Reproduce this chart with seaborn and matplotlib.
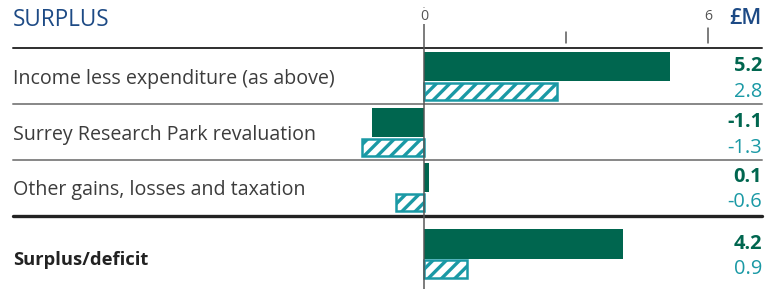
import numpy as np
import pandas as pd
import matplotlib
matplotlib.use("Agg")
import matplotlib.pyplot as plt
import seaborn as sns

# ---- data ----
categories = ["Income less expenditure (as above)",
              "Surrey Research Park revaluation",
              "Other gains, losses and taxation",
              "Surplus/deficit"]
current = [5.2, -1.1, 0.1, 4.2]
previous = [2.8, -1.3, -0.6, 0.9]
tick_values = [0, 6]
title = "SURPLUS"
unit = "£M"

# ---- style ----
sns.set_theme(style="white")
plt.rcParams["font.family"] = ["Open Sans", "DejaVu Sans"]
DARK = "#00664f"
TEAL = "#1a99a5"
NAVY = "#1d4a85"
TXT = "#3c3c3c"
plt.rcParams["hatch.color"] = TEAL
plt.rcParams["hatch.linewidth"] = 2.0

DPI = 120
fig = plt.figure(figsize=(766 / DPI, 289 / DPI), dpi=DPI)
ax = fig.add_axes([0, 0, 1, 1])

# layout (row positions in row units)
rows = np.array([0, 1, 1.98, 3.17])
off_dark, off_hatch = -0.179, 0.268
h_dark, h_hatch = 0.518, 0.31

df_cur = pd.DataFrame({"value": current, "pos": rows + off_dark})
df_prev = pd.DataFrame({"value": previous, "pos": rows + off_hatch})
nw = np.min(np.diff(np.sort(df_cur["pos"])))

sns.barplot(data=df_cur, x="value", y="pos", orient="y", native_scale=True,
            color=DARK, saturation=1, width=h_dark / nw, linewidth=0, ax=ax)
n0 = len(ax.patches)
sns.barplot(data=df_prev, x="value", y="pos", orient="y", native_scale=True,
            color="white", saturation=1, width=h_hatch / nw, ax=ax,
            edgecolor=TEAL, linewidth=1.5)
for p in ax.patches[n0:]:
    p.set_hatch("///")
    p.set_facecolor("white")
    p.set_edgecolor(TEAL)

ppu = 47.33  # px per unit
ax.set_xlim(-424 / ppu, (766 - 424) / ppu)
ax.set_ylim((289 - 76.5) / 56, (0 - 76.5) / 56)
ax.axis("off")

# separators
x0f, x1f = 13 / 766, 762 / 766
ax.axhline(-0.5, xmin=x0f, xmax=x1f, color="#333333", lw=1.2)
ax.axhline(0.5, xmin=x0f, xmax=x1f, color="#8a8a8a", lw=1.2)
ax.axhline(1.5, xmin=x0f, xmax=x1f, color="#8a8a8a", lw=1.2)
ax.axhline(2.5, xmin=x0f, xmax=x1f, color="#222222", lw=2.0)

# zero line and ticks
ax.plot([0, 0], [(8 - 76.5) / 56, (289 - 76.5) / 56], color="#555555", lw=0.9, zorder=5)
ax.plot([3, 3], [(32 - 76.5) / 56, (43 - 76.5) / 56], color="#555555", lw=0.9)
ax.plot([6, 6], [(28 - 76.5) / 56, (43 - 76.5) / 56], color="#555555", lw=0.9)
for t in tick_values:
    ax.text(t, (16 - 76.5) / 56, str(t), ha="center", va="center",
            fontsize=8.5, color="#555555",
            bbox=dict(facecolor="white", edgecolor="none", pad=0.3) if t == 0 else None,
            zorder=6)

# title & unit
xl = (13 - 424) / ppu
xr = (762 - 424) / ppu
ax.text(xl, (20 - 76.5) / 56, title, ha="left", va="center",
        fontsize=13.5, color=NAVY)
ax.text(xr, (19 - 76.5) / 56, unit, ha="right", va="center",
        fontsize=13, color=NAVY, fontweight="semibold")

# category labels & values
for i, (cat, c, p) in enumerate(zip(categories, current, previous)):
    bold = i == len(categories) - 1
    ax.text(xl, rows[i] + (0.1 if bold else 0.05), cat, ha="left", va="center",
            fontsize=11 if bold else 11.8, color="#222222" if bold else TXT,
            fontweight="bold" if bold else "normal")
    ax.text(xr, rows[i] + off_dark, f"{c:.1f}", ha="right", va="center",
            fontsize=12, color=DARK, fontweight="bold")
    ax.text(xr, rows[i] + off_hatch, f"{p:.1f}", ha="right", va="center",
            fontsize=12, color=TEAL)

fig.savefig("out.png", dpi=DPI)
